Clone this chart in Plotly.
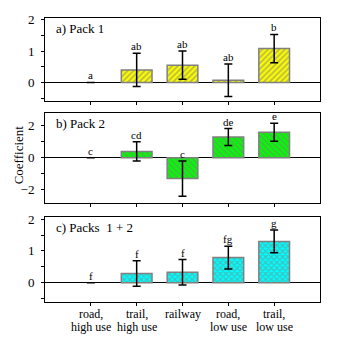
import plotly.graph_objects as go

categories = ["road,<br>high use", "trail,<br>high use", "railway", "road,<br>low use", "trail,<br>low use"]

panel_titles = ["a) Pack 1", "b) Pack 2", "c) Packs  1 + 2"]

pack1_values = [0.0, 0.40, 0.55, 0.07, 1.08]
pack1_errors = [0.0, 0.53, 0.45, 0.52, 0.45]
pack1_letters = ["a", "ab", "ab", "ab", "b"]

pack2_values = [0.0, 0.40, -1.30, 1.30, 1.60]
pack2_errors = [0.0, 0.60, 1.10, 0.53, 0.56]
pack2_letters = ["c", "cd", "c", "de", "e"]

packs12_values = [0.0, 0.29, 0.33, 0.79, 1.30]
packs12_errors = [0.0, 0.40, 0.40, 0.36, 0.36]
packs12_letters = ["f", "f", "f", "fg", "g"]

W, H = 337, 344
FONT = "Liberation Serif"

panels = [
    dict(values=pack1_values, errors=pack1_errors, letters=pack1_letters,
         color="#FFFF00", shape="/", solidity=0.5, yrange=[-0.6, 2.06], dtick=1, minor=0.5,
         top=12, bottom=97),
    dict(values=pack2_values, errors=pack2_errors, letters=pack2_letters,
         color="#00FF00", shape="\\", solidity=0.5, yrange=[-2.8, 2.8], dtick=2, minor=1,
         top=109, bottom=200),
    dict(values=packs12_values, errors=packs12_errors, letters=packs12_letters,
         color="#00FFFF", shape="x", solidity=0.55, yrange=[-0.6, 2.06], dtick=1, minor=0.5,
         top=215, bottom=301),
]

x_left, x_right = 45, 320
xpos = list(range(len(categories)))

fig = go.Figure()
layout = dict(
    width=W, height=H, margin=dict(l=0, r=0, t=0, b=0),
    paper_bgcolor="white", plot_bgcolor="white", showlegend=False,
    font=dict(family=FONT, size=13, color="black"),
)
annotations = []
for i, p in enumerate(panels):
    n = "" if i == 0 else str(i + 1)
    xa, ya = "x" + n, "y" + n
    fig.add_trace(go.Bar(
        x=xpos, y=p["values"], width=0.67, xaxis=xa, yaxis=ya,
        marker=dict(color=p["color"],
                    line=dict(color="#808080", width=[1.5 if v != 0 else 0 for v in p["values"]]),
                    pattern=dict(shape=p["shape"], fgcolor="#808080", bgcolor=p["color"],
                                 size=4, solidity=p["solidity"], fillmode="overlay")),
        error_y=dict(type="data", array=[e if e > 0 else None for e in p["errors"]],
                     color="black", thickness=1.5, width=4),
    ))
    for j, (v, e, letter) in enumerate(zip(p["values"], p["errors"], p["letters"])):
        top = v + e
        annotations.append(dict(x=j, y=top, xref=xa, yref=ya, text=letter, showarrow=False,
                                xanchor="center", yanchor="bottom",
                                font=dict(size=11, family=FONT), yshift=-1))
    annotations.append(dict(x=(x_left + 9) / W, y=1 - (p["top"] + 1) / H, xref="paper", yref="paper",
                            text=panel_titles[i], showarrow=False, xanchor="left", yanchor="top",
                            font=dict(size=13, family=FONT)))
    dom_y = [1 - p["bottom"] / H, 1 - p["top"] / H]
    layout["xaxis" + n] = dict(
        domain=[x_left / W, x_right / W], range=[-1, 5], anchor=ya,
        tickmode="array", tickvals=xpos, ticktext=[""] * len(xpos),
        ticks="outside", ticklen=3, tickcolor="black", showline=True, linecolor="black",
        linewidth=1, mirror=True, showgrid=False, zeroline=False,
    )
    layout["yaxis" + n] = dict(
        domain=dom_y, range=p["yrange"], anchor=xa, dtick=p["dtick"],
        ticks="outside", ticklen=3, tickcolor="black", showline=True, linecolor="black",
        linewidth=1, mirror=True, showgrid=False, zeroline=True, zerolinecolor="black",
        zerolinewidth=1, tickfont=dict(size=13, family=FONT), ticklabelstandoff=4,
        minor=dict(dtick=p["minor"], ticks="outside", ticklen=3, tickcolor="black", showgrid=False),
    )

# category labels under the bottom panel, one annotation per text line
for j, cat in enumerate(categories):
    for k, line in enumerate(cat.split("<br>")):
        annotations.append(dict(x=j, y=1 - (313 + 14 * k) / H, xref="x3", yref="paper", text=line,
                                showarrow=False, xanchor="center", yanchor="middle",
                                font=dict(size=12, family=FONT)))

annotations.append(dict(x=18 / W, y=1 - 152 / H, xref="paper", yref="paper", text="Coefficient",
                        showarrow=False, textangle=-90, xanchor="center", yanchor="middle",
                        font=dict(size=13, family=FONT)))
layout["annotations"] = annotations
fig.update_layout(**layout)
fig.write_html("out.html")
